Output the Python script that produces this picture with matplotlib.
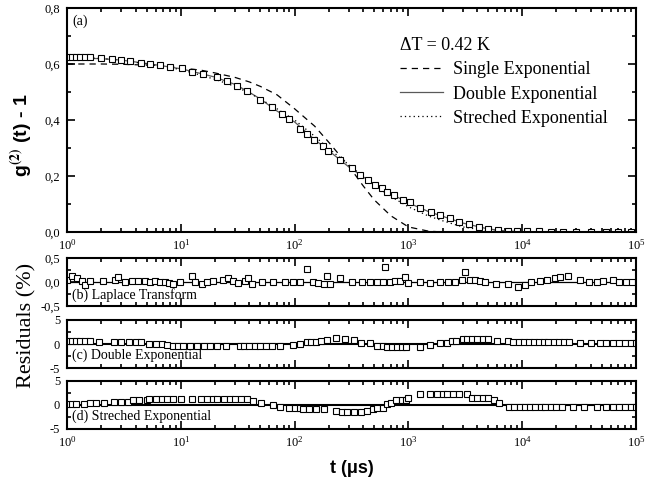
import matplotlib.pyplot as plt
from matplotlib.ticker import FuncFormatter, MultipleLocator, LogLocator, NullFormatter

plt.rcParams['font.family'] = 'Liberation Serif'
plt.rcParams['mathtext.fontset'] = 'stix'

# (a) measured correlation function
t_data = [1.0, 1.1, 1.2, 1.3, 1.45, 1.6, 2.0, 2.47, 3.0, 3.6, 4.5, 5.4, 6.6, 8.0, 10.2,
          12.5, 15.8, 20.7, 25.3, 31, 38, 49.7, 63, 77, 90, 111, 128, 148, 178, 198,
          251, 318, 376, 444, 508, 582, 645, 740, 900, 1030, 1260, 1590, 1900, 2300,
          2800, 3400, 4200, 5000, 6100, 7500, 9000, 11000, 14000, 18000, 23000,
          30000, 40000, 55000, 70000, 90000]
g_data = [0.626, 0.626, 0.626, 0.625, 0.625, 0.624, 0.620, 0.618, 0.614, 0.611, 0.605,
          0.600, 0.596, 0.590, 0.585, 0.573, 0.564, 0.552, 0.540, 0.522, 0.503, 0.471,
          0.445, 0.420, 0.402, 0.367, 0.350, 0.329, 0.307, 0.289, 0.257, 0.227, 0.204,
          0.186, 0.168, 0.156, 0.144, 0.132, 0.114, 0.106, 0.087, 0.070, 0.062, 0.049,
          0.037, 0.027, 0.019, 0.011, 0.007, 0.004, 0.003, 0.002, 0.002, 0.001, 0.001,
          0.001, 0.000, 0.000, 0.000, 0.000]

# fit curves
t_fit = [1, 2, 3, 5, 7, 10, 15, 20, 30, 40, 50, 70, 100, 150, 200, 300, 400, 500, 700,
         1000, 1500, 2000, 3000, 5000, 7000, 10000, 100000]
g_single = [0.600, 0.600, 0.599, 0.596, 0.592, 0.586, 0.578, 0.568, 0.552, 0.536, 0.520,
            0.490, 0.440, 0.378, 0.320, 0.235, 0.165, 0.115, 0.058, 0.018, 0.003, 0.0,
            0.0, 0.0, 0.0, 0.0, 0.0]
g_double = [0.622, 0.619, 0.614, 0.602, 0.593, 0.583, 0.566, 0.553, 0.527, 0.499, 0.475,
            0.432, 0.393, 0.330, 0.290, 0.232, 0.197, 0.170, 0.137, 0.104, 0.073, 0.056,
            0.032, 0.011, 0.004, 0.001, 0.0]
g_stretch = [0.625, 0.620, 0.613, 0.600, 0.591, 0.580, 0.560, 0.545, 0.520, 0.496, 0.475,
             0.440, 0.400, 0.342, 0.298, 0.240, 0.198, 0.167, 0.127, 0.090, 0.057, 0.040,
             0.018, 0.004, 0.001, 0.0, 0.0]

# (b) Laplace transform residuals
t_b = [1.0, 1.1, 1.22, 1.35, 1.44, 1.59, 2.08, 2.64, 2.83, 3.23, 3.7, 4.23, 4.85, 5.35,
       5.94, 6.56, 7.26, 7.8, 8.6, 9.85, 12.5, 13.2, 15.3, 16.9, 19.3, 23.6, 26.1, 29, 32,
       36.8, 39.3, 42, 51.5, 65, 82, 97, 111, 128, 146, 162, 180, 193, 205, 250, 318, 390,
       460, 530, 600, 623, 690, 765, 840, 930, 1000, 1260, 1560, 1900, 2240, 2560, 2930,
       3160, 3460, 3830, 4240, 4690, 5930, 7470, 9160, 10500, 12000, 14200, 16400, 19300,
       21400, 25200, 32000, 39000, 45000, 51000, 63000, 71000, 81000, 93000]
r_b = [0.05, 0.12, 0.09, 0.03, -0.07, 0.03, 0.02, 0.05, 0.10, 0.0, 0.02, 0.02, 0.02, 0.0,
       0.02, 0.0, 0.0, -0.02, -0.05, 0.0, 0.12, 0.0, -0.05, 0.0, 0.02, 0.05, 0.08, 0.02,
       -0.03, 0.02, 0.08, -0.05, 0.0, 0.0, 0.0, 0.0, 0.0, 0.27, 0.0, -0.02, -0.05, 0.13,
       -0.05, 0.08, 0.0, 0.0, 0.0, 0.0, 0.0, 0.31, 0.0, 0.02, 0.02, 0.10, -0.02, 0.0, -0.02,
       0.0, 0.0, 0.0, 0.05, 0.20, 0.05, 0.05, 0.02, 0.0, -0.04, -0.04, -0.11, -0.06, 0.0,
       0.02, 0.05, 0.08, 0.10, 0.13, 0.04, 0.0, 0.0, 0.03, 0.05, 0.0, 0.0, 0.0]

# (c) double exponential residuals
t_c = [1.0, 1.1, 1.2, 1.3, 1.45, 1.6, 1.9, 2.6, 3.0, 3.5, 4.0, 4.5, 5.3, 6.0, 6.8, 7.5,
       8.6, 9.5, 10.5, 12, 14, 16, 18, 21, 25, 33, 36, 40, 45, 50, 56, 63, 75, 97, 111,
       128, 140, 155, 170, 193, 230, 280, 330, 380, 460, 530, 600, 650, 720, 800, 870, 950,
       1260, 1560, 1900, 2200, 2400, 2600, 3000, 3300, 3600, 4000, 4500, 5000, 6000, 7500,
       8300, 9300, 10400, 11500, 12700, 14000, 15500, 17000, 19000, 21000, 23500, 26000,
       32000, 40000, 48000, 55000, 63000, 71000, 80000, 90000, 100000]
r_c = [0.7, 0.7, 0.7, 0.7, 0.7, 0.7, 0.5, 0.35, 0.35, 0.35, 0.35, 0.35, 0.1, 0.0, -0.1,
       -0.2, -0.35, -0.35, -0.35, -0.35, -0.35, -0.35, -0.35, -0.5, -0.5, -0.5, -0.5, -0.5,
       -0.5, -0.5, -0.35, -0.35, -0.35, -0.2, 0.0, 0.5, 0.5, 0.5, 0.6, 0.9, 1.2, 1.0, 0.8,
       0.3, 0.3, -0.4, -0.4, -0.7, -0.7, -0.7, -0.7, -0.7, -0.7, -0.2, 0.3, 0.3, 0.7, 0.7,
       1.0, 1.0, 1.0, 1.0, 1.0, 1.0, 0.7, 0.7, 0.4, 0.4, 0.4, 0.4, 0.4, 0.4, 0.4, 0.4, 0.4,
       0.4, 0.4, 0.4, 0.3, 0.3, 0.3, 0.3, 0.3, 0.3, 0.3, 0.3, 0.3]

# (d) stretched exponential residuals
t_d = [1.0, 1.1, 1.2, 1.4, 1.6, 1.8, 2.1, 2.6, 3.0, 3.4, 3.8, 4.3, 5.0, 5.3, 6.0, 6.8,
       7.6, 8.6, 10, 12.5, 15, 17, 19, 21, 24, 27, 30, 34, 38, 43, 51, 65, 74, 90, 100,
       111, 118, 135, 155, 180, 230, 260, 290, 330, 380, 430, 490, 530, 600, 650, 700,
       780, 870, 950, 1000, 1260, 1560, 1800, 2000, 2200, 2450, 2800, 3300, 3600, 4000,
       4500, 5000, 5600, 6300, 7600, 8500, 9500, 10500, 11700, 13000, 14500, 16000, 18000,
       20000, 22500, 28000, 35000, 45000, 55000, 63000, 71000, 80000, 90000, 100000]
r_d = [0.3, 0.3, 0.3, 0.3, 0.5, 0.5, 0.5, 0.7, 0.7, 0.7, 1.0, 1.0, 1.0, 1.2, 1.2, 1.2,
       1.2, 1.2, 1.3, 1.3, 1.3, 1.3, 1.3, 1.3, 1.2, 1.2, 1.2, 1.2, 1.2, 0.8, 0.5, 0.0,
       -0.35, -0.6, -0.6, -0.6, -0.9, -0.9, -0.9, -0.9, -1.3, -1.4, -1.4, -1.4, -1.4, -1.3,
       -0.9, -0.6, -0.6, 0.1, 0.5, 1.1, 1.1, 1.1, 1.5, 2.2, 2.3, 2.3, 2.3, 2.3, 2.2, 2.2,
       2.2, 1.5, 1.5, 1.5, 1.5, 1.0, 0.35, -0.35, -0.35, -0.35, -0.35, -0.35, -0.35, -0.35,
       -0.35, -0.35, -0.35, -0.35, -0.35, -0.35, -0.35, -0.35, -0.35, -0.35, -0.35, -0.35,
       -0.35]


def comma(v, p):
    return f"{v:.1f}".replace('.', ',')


def integer(v, p):
    return f"{v:.0f}"


def style(ax, labels=True):
    ax.set_xscale('log')
    ax.set_xlim(1, 1e5)
    ax.xaxis.set_major_locator(LogLocator(base=10, numticks=10))
    ax.xaxis.set_minor_locator(LogLocator(base=10, subs=range(2, 10), numticks=20))
    ax.xaxis.set_minor_formatter(NullFormatter())
    ax.tick_params(which='both', direction='in', top=True, right=True, width=1.2)
    ax.tick_params(which='major', length=6)
    ax.tick_params(which='minor', length=3)
    ax.tick_params(axis='y', labelsize=9, pad=5)
    ax.tick_params(axis='x', labelsize=9, pad=4)
    if not labels:
        ax.tick_params(axis='x', labelbottom=False)
    for s in ax.spines.values():
        s.set_linewidth(1.5)


fig = plt.figure(figsize=(6.59, 4.82), dpi=100)
mk = dict(marker='s', ms=4.2, mfc='white', mec='black', mew=0.8, ls='none')

# (a)
ax = fig.add_axes([0.1017, 0.5187, 0.8634, 0.4647])
ax.plot(t_fit, g_single, color='black', lw=0.9, ls=(0, (5, 4)), label='Single Exponential')
ax.plot(t_fit, g_double, color='0.35', lw=0.9, ls='-', label='Double Exponential')
ax.plot(t_fit, g_stretch, color='black', lw=0.9, ls=(0, (1, 2.5)), label='Streched Exponential')
ax.plot(t_data, g_data, **mk)
style(ax)
ax.set_ylim(0, 0.8)
ax.yaxis.set_major_locator(MultipleLocator(0.2))
ax.yaxis.set_minor_locator(MultipleLocator(0.1))
ax.yaxis.set_major_formatter(FuncFormatter(comma))
ax.set_ylabel(r'g$^{\mathbf{(2)}}$ (t) - 1', family='Liberation Sans', fontweight='bold',
              fontsize=14)
ax.yaxis.set_label_coords(-0.058, 0.43)
ax.text(0.01, 0.94, '(a)', transform=ax.transAxes, fontsize=10, va='center')
leg = ax.legend(title='ΔT = 0.42 K', loc='upper left', bbox_to_anchor=(0.585, 0.87),
                frameon=False, fontsize=13, title_fontsize=13, handlelength=2.4,
                handletextpad=0.55, labelspacing=0.4, borderpad=0, borderaxespad=0,
                alignment='left')

# (b)
axb = fig.add_axes([0.1017, 0.3651, 0.8634, 0.0996])
axb.axhline(0, color='black', lw=0.9)
axb.plot(t_b, r_b, **mk)
style(axb, labels=False)
axb.set_ylim(-0.5, 0.5)
axb.yaxis.set_major_locator(MultipleLocator(0.5))
axb.yaxis.set_minor_locator(MultipleLocator(0.25))
axb.yaxis.set_major_formatter(FuncFormatter(comma))
axb.text(0.009, 0.23, '(b) Laplace Transform', transform=axb.transAxes, fontsize=10, va='center')

# (c)
axc = fig.add_axes([0.1017, 0.2365, 0.8634, 0.0996])
axc.axhline(0, color='black', lw=1.5)
axc.plot(t_c, r_c, **mk)
style(axc, labels=False)
axc.set_ylim(-5, 5)
axc.yaxis.set_major_locator(MultipleLocator(5))
axc.yaxis.set_minor_locator(MultipleLocator(2.5))
axc.yaxis.set_major_formatter(FuncFormatter(integer))
axc.text(0.009, 0.27, '(c) Double Exponential', transform=axc.transAxes, fontsize=10, va='center')

# (d)
axd = fig.add_axes([0.1017, 0.1100, 0.8634, 0.0996])
axd.axhline(0, color='black', lw=1.5)
axd.plot(t_d, r_d, **mk)
style(axd)
axd.set_ylim(-5, 5)
axd.yaxis.set_major_locator(MultipleLocator(5))
axd.yaxis.set_minor_locator(MultipleLocator(2.5))
axd.yaxis.set_major_formatter(FuncFormatter(integer))
axd.text(0.009, 0.26, '(d) Streched Exponential', transform=axd.transAxes, fontsize=10, va='center')
axd.set_xlabel('t (μs)', family='Liberation Sans', fontweight='bold', fontsize=13, labelpad=8)

fig.text(0.040, 0.325, 'Residuals (%)', rotation=90, fontsize=16, ha='center', va='center')

fig.savefig('out.png', dpi=100)
